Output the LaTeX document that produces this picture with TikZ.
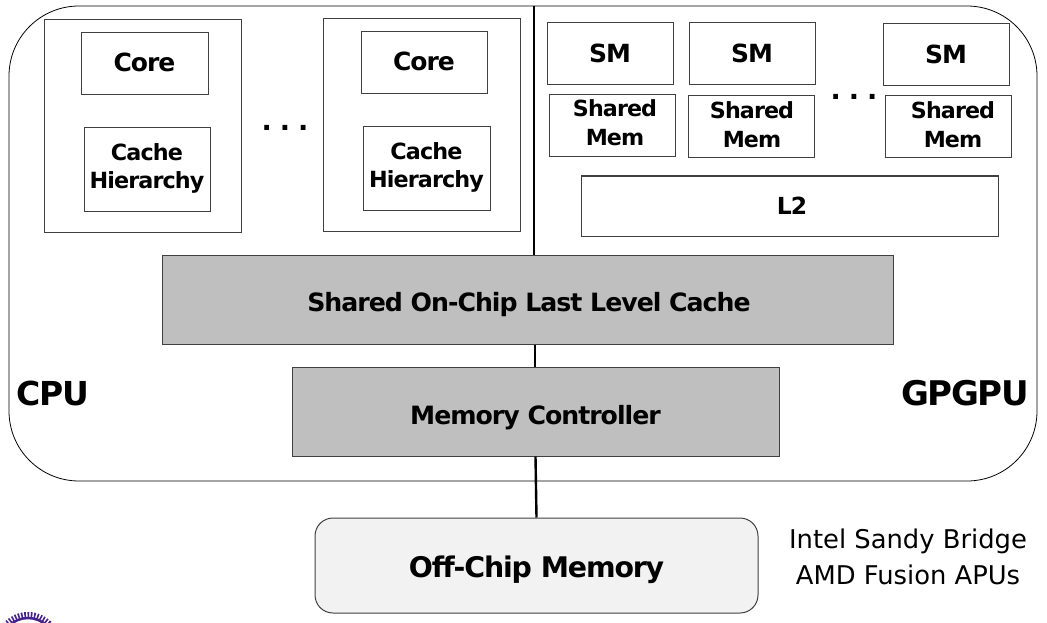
\documentclass[tikz,border=0pt]{standalone}
\usepackage{fontspec}
\setmainfont{DejaVu Sans}[BoldFeatures={LetterSpace=-4.0}]
\newcommand{\fs}[1]{\fontsize{#1}{#1}\selectfont}
\definecolor{boxline}{HTML}{404040}
\definecolor{grayfill}{HTML}{BFBFBF}
\definecolor{offfill}{HTML}{F2F2F2}
\definecolor{sealpurple}{HTML}{46228A}
\tikzset{
  box/.style={draw=boxline,line width=1pt,rectangle,inner sep=0pt,align=center,font=\fs{#1}\bfseries},
  box/.default=22,
  wh/.style 2 args={minimum width=#1pt,minimum height=#2pt},
  coretxt/.style={box=25,text depth=2pt},
  twoline/.style={box=22.3,text depth=7.5pt,execute at begin node={\baselineskip=28pt}},
  shared/.style n args={2}{draw=boxline,line width=1pt,rectangle,inner sep=0pt,wh={126}{62},
     label={[font=\fs{22.2}\bfseries,align=center,inner sep=0pt,xshift=#1pt,yshift=#2pt,execute at begin node={\baselineskip=29pt}]center:Shared\\Mem}},
  bigbox/.style={draw=boxline,line width=1pt,rectangle,inner sep=0pt,wh={197}{213}},
  grayblock/.style={draw=boxline,line width=1pt,fill=grayfill,rectangle,inner sep=0pt,font=\fs{#1}\bfseries},
  spine/.style={line width=2.4pt,black},
  dots/.style={font=\fs{27}\bfseries,inner sep=0pt,anchor=base},
  side/.style={font=\fs{#1}\bfseries,inner sep=0pt},
  note/.style={font=\fs{25.8},inner sep=0pt,align=center,execute at begin node={\baselineskip=36pt}},
}
\begin{document}
\begin{tikzpicture}[x=1pt,y=-1pt]
\useasboundingbox (0,0) rectangle (1047,623);
\begin{scope}
\clip (0,0) rectangle (1047,623);
\draw[sealpurple,line width=2.5pt] (28,645) circle (27);
\draw[sealpurple,line width=6pt,dash pattern=on 1.6pt off 1.6pt] (28,645) circle (30);
\end{scope}
\node[draw=black,line width=.8pt,rectangle,rounded corners=70pt,minimum width=1028pt,minimum height=475pt,inner sep=0pt] (chip) at (523,243.5) {};
\node[bigbox] (cpu1) at (142.5,125.7) {};
\node[bigbox] (cpu2) at (422,124.7) {};
\node[coretxt,wh={127}{62}] (core1) at (144.5,63.4) {Core};
\node[coretxt,wh={126}{62}] (core2) at (424,62.4) {Core};
\node[twoline,wh={126}{84}] (cache1) at (147,169.4) {Cache\\Hierarchy};
\node[twoline,wh={127}{84}] (cache2) at (426.5,168.4) {Cache\\Hierarchy};
\node[dots] (dotsa) at (285,131) {.\kern8pt.\kern8pt.};
\node[dots] (dotsb) at (854,100) {.\kern8pt.\kern8pt.};
\node[coretxt,wh={126}{62}] (sm1) at (610,54) {SM};
\node[coretxt,wh={126}{62}] (sm2) at (752,54) {SM};
\node[coretxt,wh={126}{62}] (sm3) at (946,55) {SM};
\node[shared={2.5}{3.5}] (mem1) at (612.5,126) {};
\node[shared={1}{2}] (mem2) at (751,127) {};
\node[shared={5}{2}] (mem3) at (948,127) {};
\node[box=23.5,wh={417}{60}] (l2) at (789.5,206) {\hspace*{5pt}L2};
\node[grayblock=25.2,wh={731}{89},text height=30pt] (llc) at (527.5,299.5) {\hspace*{3pt}Shared On-Chip Last Level Cache};
\node[grayblock=25.2,wh={487}{89},text height=32pt] (mc) at (535.5,411.5) {Memory Controller};
\node[draw=boxline,line width=1pt,fill=offfill,rectangle,rounded corners=18pt,inner sep=0pt,font=\fs{28.4}\bfseries,wh={443}{95},text height=31pt] (off) at (536.5,565.5) {Off-Chip Memory};
\node[side=33] (cpulabel) at (53,393.5) {CPU};
\node[side=34] (gpulabel) at (965,393.5) {GPGPU};
\node[note] (intel) at (908,556.5) {Intel Sandy Bridge\\AMD Fusion APUs};
\coordinate (top) at (534,6);
\coordinate (mid) at (535,0);
\draw[spine] (top) -- (top |- llc.north);
\draw[spine] (mid |- llc.south) -- (mid |- mc.north);
\draw[spine] (mc.south) -- (off.north);
\end{tikzpicture}
\end{document}
